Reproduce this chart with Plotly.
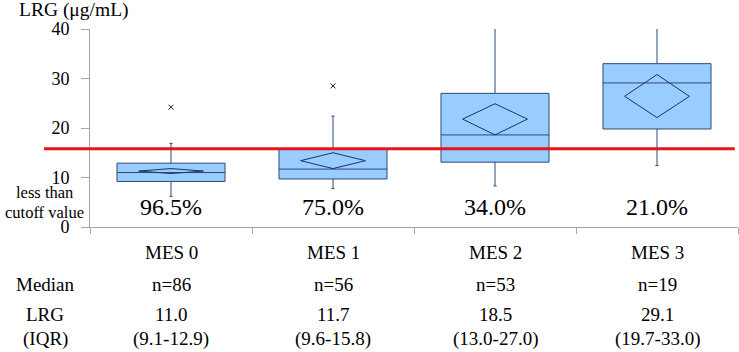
import plotly.graph_objects as go

# ---- data ----
categories = ["MES 0", "MES 1", "MES 2", "MES 3"]
q1 = [9.2, 9.7, 13.1, 19.8]
median = [11.0, 11.7, 18.6, 29.1]
q3 = [12.9, 15.8, 27.0, 33.0]
lower_whisker = [6.2, 7.75, 8.3, 12.4]
upper_whisker = [16.9, 22.4, 41.7, 40.9]
mean_values = [11.3, 13.4, 21.8, 26.4]
mean_ci_low = [10.8, 11.8, 18.6, 22.1]
mean_ci_high = [11.8, 15.0, 24.9, 30.8]
outlier_group = [0, 1]
outlier_values = [24.2, 28.5]
below_cutoff_pct = ["96.5%", "75.0%", "34.0%", "21.0%"]
cutoff = 15.8
n_labels = ["n=86", "n=56", "n=53", "n=19"]
median_labels = ["11.0", "11.7", "18.5", "29.1"]
iqr_labels = ["(9.1-12.9)", "(9.6-15.8)", "(13.0-27.0)", "(19.7-33.0)"]
row_titles = ["Median", "LRG", "(IQR)"]
y_ticks = [0, 10, 20, 30, 40]

FONT = "Liberation Serif"
positions = list(range(len(categories)))

fig = go.Figure()

fig.add_trace(go.Box(
    x=positions, q1=q1, median=median, q3=q3,
    lowerfence=lower_whisker, upperfence=upper_whisker,
    width=0.667, whiskerwidth=0.03,
    fillcolor="#99CCFF", line=dict(color="#2E4A72", width=1),
    boxpoints=False, showlegend=False, hoverinfo="skip",
))

# mean diamonds
hw = 0.2
for i, p in enumerate(positions):
    fig.add_trace(go.Scatter(
        x=[p - hw, p, p + hw, p, p - hw],
        y=[mean_values[i], mean_ci_high[i], mean_values[i], mean_ci_low[i], mean_values[i]],
        mode="lines", line=dict(color="#1C3461", width=1),
        showlegend=False, hoverinfo="skip",
    ))

# outliers
fig.add_trace(go.Scatter(
    x=[positions[g] for g in outlier_group], y=outlier_values,
    mode="markers",
    marker=dict(symbol="x-thin", size=5, line=dict(color="#222222", width=1)),
    showlegend=False, hoverinfo="skip",
))

# cutoff line
fig.add_shape(type="line", xref="paper", yref="y",
              x0=-0.071, x1=0.995, y0=cutoff, y1=cutoff,
              line=dict(color="#E8131B", width=3), layer="above")

ann = []


def text(x, y, t, size, xref="paper", yref="paper", xanchor="center"):
    ann.append(dict(x=x, y=y, xref=xref, yref=yref, text=t, showarrow=False,
                    xanchor=xanchor, yanchor="middle",
                    font=dict(family=FONT, size=size, color="black")))


def ypaper(px):
    return (227 - px) / 198.0


def xpaper(px):
    return (px - 90) / 648.0


# percentages below cutoff
for p, t in zip(positions, below_cutoff_pct):
    text(p, 4.0, t, 24, xref="x", yref="y")

text(xpaper(44), ypaper(192), "less than", 16.5)
text(xpaper(44), ypaper(212), "cutoff value", 16.5)
text(xpaper(17), ypaper(10), "LRG (μg/mL)", 19.5, xanchor="left")

# table
row_y = [252, 284, 314, 339]
for p, c, n, m, q in zip(positions, categories, n_labels, median_labels, iqr_labels):
    for t, py in zip([c, n, m, q], row_y):
        text(p, ypaper(py), t, 19, xref="x")
for t, py in zip(row_titles, row_y[1:]):
    text(xpaper(45), ypaper(py), t, 19)

fig.update_layout(
    width=739, height=352,
    margin=dict(l=90, r=1, t=29, b=125, autoexpand=False),
    paper_bgcolor="white", plot_bgcolor="white",
    annotations=ann, showlegend=False,
    font=dict(family=FONT, color="black"),
    xaxis=dict(range=[-0.5, 3.5], tickvals=[-0.5, 0.5, 1.5, 2.5, 3.5], showticklabels=False,
               ticks="outside", ticklen=6, tickcolor="#A6A6A6", showline=True,
               linecolor="#A6A6A6", linewidth=1, showgrid=False, zeroline=False,
               automargin=False),
    yaxis=dict(range=[0, 40], tickvals=y_ticks, ticks="outside", ticklen=8,
               tickcolor="#A6A6A6", showline=True, linecolor="#A6A6A6", linewidth=1,
               showgrid=False, zeroline=False, ticklabelstandoff=8, automargin=False,
               tickfont=dict(family=FONT, size=18, color="black")),
)

# remove the browser's default 8px page margin so the figure fills the window
fig.write_html("out.html", config={"displayModeBar": False},
               post_script="document.body.style.margin='0';")
